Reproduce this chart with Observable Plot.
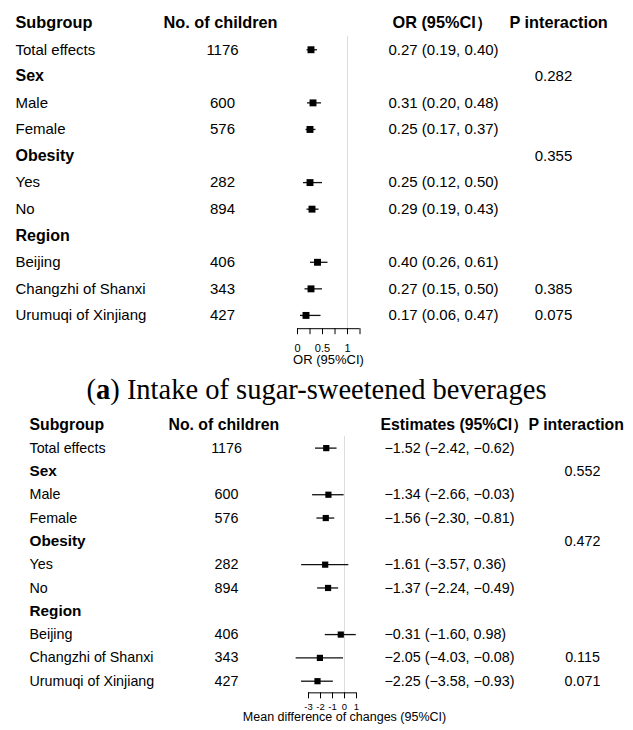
<!DOCTYPE html>
<html><head><meta charset="utf-8">
<script src="https://cdn.jsdelivr.net/npm/d3@7"></script>
<script src="https://cdn.jsdelivr.net/npm/@observablehq/plot@0.6"></script>
<style>
body{margin:0;background:#fff;width:633px;overflow:hidden;}
#caption{font-family:"Liberation Serif","Times New Roman",serif;font-size:28.5px;text-align:center;height:30px;line-height:30px;color:#000;white-space:nowrap;}
svg{display:block}
</style></head><body>
<div id="a"></div>
<div id="caption">(<b>a</b>) Intake of sugar-sweetened beverages</div>
<div id="b"></div>
<script>
// ---- data ----
const subgroups = ["Total effects","Sex","Male","Female","Obesity","Yes","No","Region","Beijing","Changzhi of Shanxi","Urumuqi of Xinjiang"];
const groupHeaders = ["Sex","Obesity","Region"];
const nChildren = ["1176","","600","576","","282","894","","406","343","427"];
const orEst  = [0.27,null,0.31,0.25,null,0.25,0.29,null,0.40,0.27,0.17];
const orLow  = [0.19,null,0.20,0.17,null,0.12,0.19,null,0.26,0.15,0.06];
const orHigh = [0.40,null,0.48,0.37,null,0.50,0.43,null,0.61,0.50,0.47];
const pInteractionA = ["","0.282","","","0.355","","","","","0.385","0.075"];
const mdEst  = [-1.52,null,-1.34,-1.56,null,-1.61,-1.37,null,-0.31,-2.05,-2.25];
const mdLow  = [-2.42,null,-2.66,-2.30,null,-3.57,-2.24,null,-1.60,-4.03,-3.58];
const mdHigh = [-0.62,null,-0.03,-0.81,null,0.36,-0.49,null,0.98,-0.08,-0.93];
const pInteractionB = ["","0.552","","","0.472","","","","","0.115","0.071"];
const ticksA = [0,0.25,0.5,0.75,1,1.25];
const tickLabelsA = [0,0.5,1];
const ticksB = [-3,-2,-1,0,1];
const headersA = ["Subgroup","No. of children","OR (95%CI\uFF09","P interaction"];
const headersB = ["Subgroup","No. of children","Estimates (95%CI\uFF09","P interaction"];
const axisTitleA = "OR (95%CI)";
const axisTitleB = "Mean difference of changes (95%CI)";

// ---- layout ----
const layoutA = {height:375, mt:9.4, mb:46.8, xRange:[297,359.5], subX:15, nHeadX:163, nX:222, estHeadX:392, estX:388, pHeadX:509, pX:553,
  fs:15, fsGroup:16, fsHead:16.3, tickFs:11, tickPad:9, axisTitleX:328, axisTitleDy:35.7, axisTitleFs:13, r:3.9};
const layoutB = {height:325, mt:7.65, mb:37.65, xRange:[308,356], subX:29, nHeadX:168, nX:226, estHeadX:380, estX:384, pHeadX:528, pX:582,
  fs:14.3, fsGroup:15.3, fsHead:15.8, tickFs:9.5, tickPad:4, axisTitleX:344, axisTitleDy:28.5, axisTitleFs:12.5, r:3.5};

const fmt = v => v.toFixed(2).replace("-", "\u2212");

function forest(cfg, L) {
  const n = subgroups.length;
  const rows = subgroups.map((s, i) => ({
    i: i + 1, label: s, group: groupHeaders.includes(s), n: nChildren[i],
    est: cfg.est[i], lo: cfg.lo[i], hi: cfg.hi[i], p: cfg.p[i],
    txt: cfg.est[i] == null ? "" : `${fmt(cfg.est[i])} (${fmt(cfg.lo[i])}, ${fmt(cfg.hi[i])})`
  }));
  const data = rows.filter(d => d.est != null);
  const head = (t, dx) => Plot.text([t], {y: [0], text: d => d, frameAnchor: "left", dx, textAnchor: "start", fontWeight: "bold", fontSize: L.fsHead, fill: "#000"});
  return Plot.plot({
    width: 633, height: L.height, marginTop: L.mt, marginBottom: L.mb, marginLeft: 0, marginRight: 0,
    style: {fontFamily: '"Liberation Sans", Arial, sans-serif', background: "#fff", color: "#000"},
    x: {domain: cfg.domain, range: L.xRange},
    y: {domain: [-0.5, n + 0.5], reverse: true, axis: null},
    marks: [
      Plot.ruleX([cfg.ref], {y1: 0.5, y2: n + 0.5, stroke: "#dcdcdc", strokeWidth: 1}),
      Plot.ruleY([n + 0.5], {x1: cfg.domain[0], x2: cfg.domain[1], stroke: "#000", strokeWidth: 1}),
      Plot.axisX({ticks: cfg.ticks, tickFormat: cfg.tickFormat, tickSize: 6, tickPadding: L.tickPad, fontSize: L.tickFs, label: null, stroke: "#000", fill: "#000"}),
      Plot.text([cfg.axisTitle], {frameAnchor: "bottom-left", dx: L.axisTitleX, dy: L.axisTitleDy, textAnchor: "middle", fontSize: L.axisTitleFs, fill: "#000"}),
      Plot.ruleY(data, {y: "i", x1: "lo", x2: "hi", stroke: "#111", strokeWidth: 1.3}),
      Plot.dot(data, {x: "est", y: "i", symbol: "square", r: L.r, fill: "#000", stroke: null}),
      head(cfg.headers[0], L.subX),
      head(cfg.headers[1], L.nHeadX),
      head(cfg.headers[2], L.estHeadX),
      head(cfg.headers[3], L.pHeadX),
      Plot.text(rows.filter(d => !d.group), {y: "i", text: "label", frameAnchor: "left", dx: L.subX, textAnchor: "start", fontSize: L.fs, fill: "#000"}),
      Plot.text(rows.filter(d => d.group), {y: "i", text: "label", frameAnchor: "left", dx: L.subX, textAnchor: "start", fontSize: L.fsGroup, fontWeight: "bold", fill: "#000"}),
      Plot.text(rows, {y: "i", text: "n", frameAnchor: "left", dx: L.nX, textAnchor: "middle", fontSize: L.fs, fill: "#000"}),
      Plot.text(rows, {y: "i", text: "txt", frameAnchor: "left", dx: L.estX, textAnchor: "start", fontSize: L.fs, fill: "#000"}),
      Plot.text(rows, {y: "i", text: "p", frameAnchor: "left", dx: L.pX, textAnchor: "middle", fontSize: L.fs, fill: "#000"})
    ]
  });
}

document.getElementById("a").append(forest({
  est: orEst, lo: orLow, hi: orHigh, p: pInteractionA, domain: [ticksA[0], ticksA[ticksA.length - 1]], ref: 1,
  ticks: ticksA, tickFormat: d => tickLabelsA.includes(d) ? String(d) : "", headers: headersA, axisTitle: axisTitleA
}, layoutA));
document.getElementById("b").append(forest({
  est: mdEst, lo: mdLow, hi: mdHigh, p: pInteractionB, domain: [ticksB[0], ticksB[ticksB.length - 1]], ref: 0,
  ticks: ticksB, tickFormat: d => String(d), headers: headersB, axisTitle: axisTitleB
}, layoutB));
</script>
</body></html>
